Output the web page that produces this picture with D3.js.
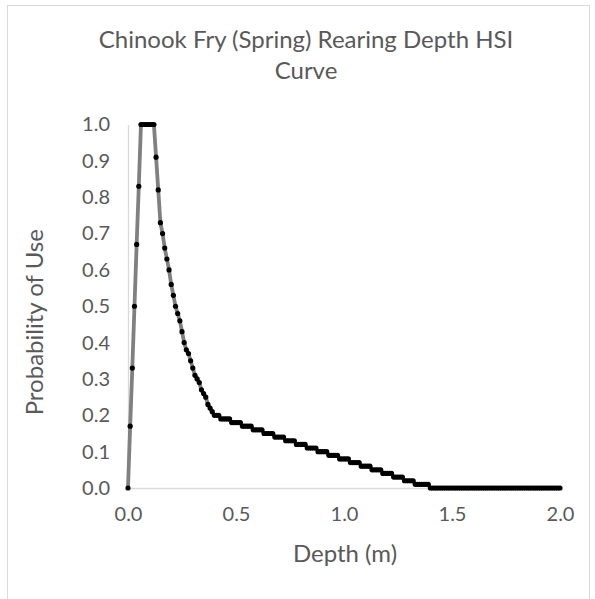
<!DOCTYPE html>
<html><head><meta charset="utf-8">
<script src="https://cdn.jsdelivr.net/npm/d3@7"></script>
<style>body{margin:0;background:#fff}svg{display:block}</style>
</head><body>
<svg id="chart" width="595" height="599"></svg>
<script>
const titleLines = ["Chinook Fry (Spring) Rearing Depth HSI", "Curve"];
const xTitle = "Depth (m)";
const yTitle = "Probability of Use";
const xTicks = [0, 0.5, 1.0, 1.5, 2.0];
const yTicks = [0, 0.1, 0.2, 0.3, 0.4, 0.5, 0.6, 0.7, 0.8, 0.9, 1.0];

const depth = [
  0.00,0.01,0.02,0.03,0.04,0.05,0.06,0.07,0.08,0.09,
  0.10,0.11,0.12,0.13,0.14,0.15,0.16,0.17,0.18,0.19,
  0.20,0.21,0.22,0.23,0.24,0.25,0.26,0.27,0.28,0.29,
  0.30,0.31,0.32,0.33,0.34,0.35,0.36,0.37,0.38,0.39,
  0.40,0.41,0.42,0.43,0.44,0.45,0.46,0.47,0.48,0.49,
  0.50,0.51,0.52,0.53,0.54,0.55,0.56,0.57,0.58,0.59,
  0.60,0.61,0.62,0.63,0.64,0.65,0.66,0.67,0.68,0.69,
  0.70,0.71,0.72,0.73,0.74,0.75,0.76,0.77,0.78,0.79,
  0.80,0.81,0.82,0.83,0.84,0.85,0.86,0.87,0.88,0.89,
  0.90,0.91,0.92,0.93,0.94,0.95,0.96,0.97,0.98,0.99,
  1.00,1.01,1.02,1.03,1.04,1.05,1.06,1.07,1.08,1.09,
  1.10,1.11,1.12,1.13,1.14,1.15,1.16,1.17,1.18,1.19,
  1.20,1.21,1.22,1.23,1.24,1.25,1.26,1.27,1.28,1.29,
  1.30,1.31,1.32,1.33,1.34,1.35,1.36,1.37,1.38,1.39,
  1.40,1.41,1.42,1.43,1.44,1.45,1.46,1.47,1.48,1.49,
  1.50,1.51,1.52,1.53,1.54,1.55,1.56,1.57,1.58,1.59,
  1.60,1.61,1.62,1.63,1.64,1.65,1.66,1.67,1.68,1.69,
  1.70,1.71,1.72,1.73,1.74,1.75,1.76,1.77,1.78,1.79,
  1.80,1.81,1.82,1.83,1.84,1.85,1.86,1.87,1.88,1.89,
  1.90,1.91,1.92,1.93,1.94,1.95,1.96,1.97,1.98,1.99,
  2.00
];

const probability = [
  0.00,0.17,0.33,0.50,0.67,0.83,1.00,1.00,1.00,1.00,
  1.00,1.00,1.00,0.91,0.82,0.73,0.70,0.66,0.63,0.60,
  0.56,0.53,0.50,0.48,0.46,0.43,0.40,0.38,0.37,0.35,
  0.33,0.31,0.30,0.29,0.27,0.26,0.25,0.23,0.22,0.21,
  0.20,0.20,0.20,0.19,0.19,0.19,0.19,0.19,0.18,0.18,
  0.18,0.18,0.18,0.17,0.17,0.17,0.17,0.17,0.16,0.16,
  0.16,0.16,0.16,0.15,0.15,0.15,0.15,0.15,0.14,0.14,
  0.14,0.14,0.14,0.13,0.13,0.13,0.13,0.13,0.12,0.12,
  0.12,0.12,0.12,0.11,0.11,0.11,0.11,0.11,0.10,0.10,
  0.10,0.10,0.10,0.09,0.09,0.09,0.09,0.09,0.08,0.08,
  0.08,0.08,0.08,0.07,0.07,0.07,0.07,0.07,0.06,0.06,
  0.06,0.06,0.06,0.05,0.05,0.05,0.05,0.05,0.04,0.04,
  0.04,0.04,0.04,0.03,0.03,0.03,0.03,0.03,0.02,0.02,
  0.02,0.02,0.02,0.01,0.01,0.01,0.01,0.01,0.01,0.01,
  0.00,0.00,0.00,0.00,0.00,0.00,0.00,0.00,0.00,0.00,
  0.00,0.00,0.00,0.00,0.00,0.00,0.00,0.00,0.00,0.00,
  0.00,0.00,0.00,0.00,0.00,0.00,0.00,0.00,0.00,0.00,
  0.00,0.00,0.00,0.00,0.00,0.00,0.00,0.00,0.00,0.00,
  0.00,0.00,0.00,0.00,0.00,0.00,0.00,0.00,0.00,0.00,
  0.00,0.00,0.00,0.00,0.00,0.00,0.00,0.00,0.00,0.00,
  0.00
];

const data = depth.map((d, i) => ({x: d, y: probability[i]}));

const svg = d3.select("#chart");
const font = "Lato, 'Open Sans', sans-serif";
const textColor = "#595959";
const axisColor = "#d9d9d9";

// chart area border
svg.append("rect")
  .attr("x", 7.5).attr("y", 5.5)
  .attr("width", 582).attr("height", 620)
  .attr("fill", "#fff").attr("stroke", "#d9d9d9").attr("stroke-width", 1);

const plot = {left: 128, right: 560, top: 124.5, bottom: 488};
const x = d3.scaleLinear().domain([0, 2]).range([plot.left, plot.right]);
const y = d3.scaleLinear().domain([0, 1]).range([plot.bottom, plot.top]);

// title
const title = svg.append("text")
  .attr("text-anchor", "middle")
  .attr("font-family", font).attr("font-size", 24)
  .attr("fill", textColor);
titleLines.forEach((t, i) => {
  title.append("tspan").attr("x", 306).attr("y", 48 + i * 31).text(t);
});

// axes
const xAxis = d3.axisBottom(x).tickValues(xTicks).tickFormat(d3.format(".1f")).tickSize(0).tickPadding(19);
const yAxis = d3.axisLeft(y).tickValues(yTicks).tickFormat(d3.format(".1f")).tickSize(0).tickPadding(18);

const gx = svg.append("g").attr("transform", `translate(0,${plot.bottom})`).call(xAxis);
const gy = svg.append("g").attr("transform", `translate(${plot.left},0)`).call(yAxis);
[gx, gy].forEach(g => {
  g.select(".domain").attr("stroke", axisColor).attr("stroke-width", 1.3);
  g.selectAll("text").attr("font-family", font).attr("font-size", 20).attr("fill", textColor);
});

// axis titles
svg.append("text")
  .attr("x", 345).attr("y", 562)
  .attr("text-anchor", "middle")
  .attr("font-family", font).attr("font-size", 24)
  .attr("fill", textColor).text(xTitle);

svg.append("text")
  .attr("transform", `translate(43,${(plot.top + plot.bottom) / 2 + 16}) rotate(-90)`)
  .attr("text-anchor", "middle")
  .attr("font-family", font).attr("font-size", 24)
  .attr("fill", textColor).text(yTitle);

// series line
const line = d3.line().x(d => x(d.x)).y(d => y(d.y));
svg.append("path").datum(data)
  .attr("d", line)
  .attr("fill", "none")
  .attr("stroke", "#808080")
  .attr("stroke-width", 3.8)
  .attr("stroke-linejoin", "round");

// markers
svg.append("g").selectAll("circle").data(data).join("circle")
  .attr("cx", d => x(d.x)).attr("cy", d => y(d.y))
  .attr("r", 2.6).attr("fill", "#000");
</script>
</body></html>
